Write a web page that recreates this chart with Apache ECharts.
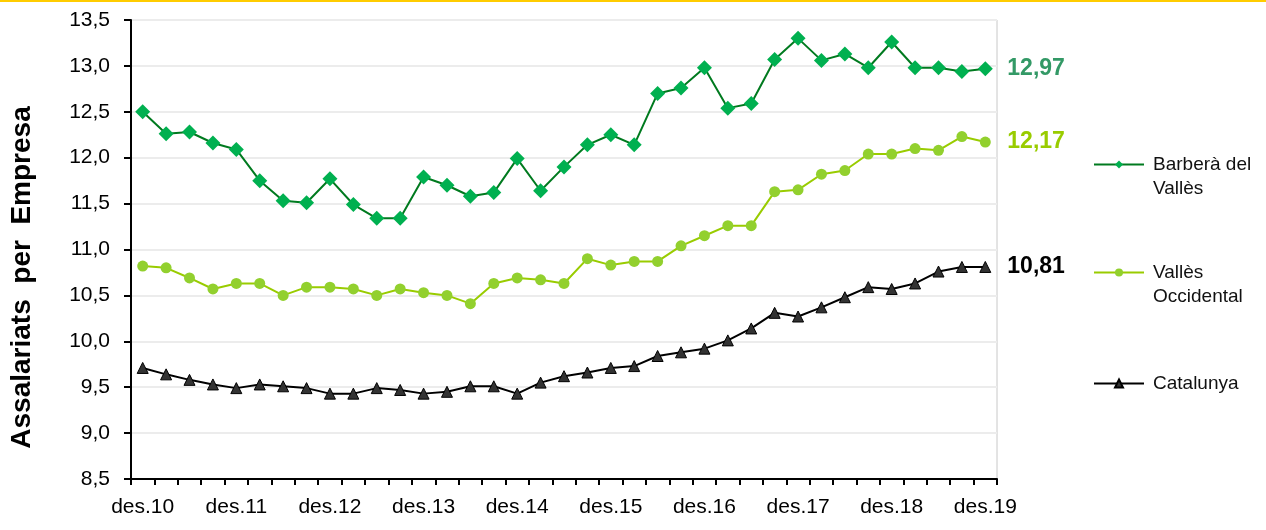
<!DOCTYPE html>
<html>
<head>
<meta charset="utf-8">
<script src="https://cdn.jsdelivr.net/npm/echarts@6/dist/echarts.min.js"></script>
<style>
  body { margin: 0; background: #fff; }
  #wrap { width: 1266px; height: 530px; border-top: 2px solid #ffcc00; box-sizing: border-box; }
  #chart { width: 1266px; height: 528px; }
</style>
</head>
<body>
<div id="wrap"><div id="chart"></div></div>
<script>
// trimestres, des.10 - des.19
const categories = [
  "des.10", "mar.11", "jun.11", "set.11", "des.11", "mar.12", "jun.12", "set.12",
  "des.12", "mar.13", "jun.13", "set.13", "des.13", "mar.14", "jun.14", "set.14",
  "des.14", "mar.15", "jun.15", "set.15", "des.15", "mar.16", "jun.16", "set.16",
  "des.16", "mar.17", "jun.17", "set.17", "des.17", "mar.18", "jun.18", "set.18",
  "des.18", "mar.19", "jun.19", "set.19", "des.19"
];
const barbera = [
  12.50, 12.26, 12.28, 12.16, 12.09, 11.75, 11.53, 11.51, 11.77, 11.49,
  11.34, 11.34, 11.79, 11.70, 11.58, 11.62, 11.99, 11.64, 11.90, 12.14,
  12.25, 12.14, 12.70, 12.76, 12.98, 12.54, 12.59, 13.07, 13.30, 13.06,
  13.13, 12.98, 13.26, 12.98, 12.98, 12.94, 12.97
];
const vallesOcc = [
  10.82, 10.80, 10.69, 10.57, 10.63, 10.63, 10.50, 10.59, 10.59, 10.57,
  10.50, 10.57, 10.53, 10.50, 10.41, 10.63, 10.69, 10.67, 10.63, 10.90,
  10.83, 10.87, 10.87, 11.04, 11.15, 11.26, 11.26, 11.63, 11.65, 11.82,
  11.86, 12.04, 12.04, 12.10, 12.08, 12.23, 12.17
];
const catalunya = [
  9.71, 9.64, 9.58, 9.53, 9.49, 9.53, 9.51, 9.49, 9.43, 9.43,
  9.49, 9.47, 9.43, 9.45, 9.51, 9.51, 9.43, 9.55, 9.62, 9.66,
  9.71, 9.73, 9.84, 9.88, 9.92, 10.01, 10.14, 10.31, 10.27, 10.37,
  10.48, 10.59, 10.57, 10.63, 10.76, 10.81, 10.81
];
const seriesNames = ["Barberà del Vallès", "Vallès Occidental", "Catalunya"];
// la primera línia va alineada amb la icona de la llegenda
const legendLabels = [
  "{s| }\n{t|Barberà del}\n{t|Vallès}",
  "{s| }\n{t|Vallès}\n{t|Occidental}",
  "{t|Catalunya}"
];

const font = "'Liberation Sans', Arial, sans-serif";
const coma = (v, d) => v.toFixed(d).replace(".", ",");

function legendAt(i, top) {
  return {
    orient: "vertical",
    left: 1093,
    top: top,
    padding: 0,
    itemWidth: 50,
    itemHeight: 10,
    data: [seriesNames[i]],
    formatter: () => legendLabels[i],
    textStyle: {
      fontFamily: font, fontSize: 19, color: "#111",
      rich: {
        s: { fontSize: 19, lineHeight: 24, padding: [0, 0, 0, 4] },
        t: { fontFamily: font, fontSize: 19, lineHeight: 24, color: "#111", padding: [0, 0, 0, 4] }
      }
    }
  };
}

const myChart = echarts.init(document.getElementById("chart"));
myChart.setOption({
  animation: false,
  grid: {
    left: 129, right: 269, top: 18, bottom: 51,
    show: true, borderColor: "#c8c8c8", borderWidth: 1
  },
  legend: [legendAt(0, 129), legendAt(1, 237), legendAt(2, 372)],
  xAxis: {
    type: "category",
    data: categories,
    boundaryGap: true,
    axisLine: { lineStyle: { color: "#000", width: 2 } },
    axisTick: { show: true, interval: 0, length: 6, lineStyle: { color: "#000", width: 2 } },
    axisLabel: { interval: 3, margin: 18, fontFamily: font, fontSize: 21, color: "#000" },
    splitLine: { show: false }
  },
  yAxis: {
    type: "value",
    min: 8.5, max: 13.5, interval: 0.5,
    name: "Assalariats  per  Empresa",
    nameLocation: "middle",
    nameGap: 95,
    nameTextStyle: {
      fontFamily: font, fontSize: 28, fontWeight: "bold", color: "#000",
      padding: [0, 56, 0, 0]
    },
    axisLine: { show: true, lineStyle: { color: "#000", width: 2 } },
    axisTick: { show: true, length: 7, lineStyle: { color: "#000", width: 2 } },
    axisLabel: {
      margin: 21, fontFamily: font, fontSize: 21, color: "#000",
      formatter: v => coma(v, 1)
    },
    splitLine: { lineStyle: { color: "#ececec", width: 2 } }
  },
  series: [
    {
      name: seriesNames[0], type: "line", data: barbera,
      symbol: "diamond", symbolSize: 15,
      lineStyle: { color: "#007a1f", width: 2 },
      itemStyle: { color: "#00b050" },
      endLabel: {
        show: true, distance: 22, formatter: p => coma(p.value, 2),
        fontFamily: font, fontSize: 23, fontWeight: "bold", color: "#339966"
      }
    },
    {
      name: seriesNames[1], type: "line", data: vallesOcc,
      symbol: "circle", symbolSize: 11,
      lineStyle: { color: "#99cc00", width: 2 },
      itemStyle: { color: "#92d02e" },
      endLabel: {
        show: true, distance: 22, formatter: p => coma(p.value, 2),
        fontFamily: font, fontSize: 23, fontWeight: "bold", color: "#99cc00"
      }
    },
    {
      name: seriesNames[2], type: "line", data: catalunya,
      symbol: "triangle", symbolSize: 11,
      lineStyle: { color: "#000", width: 2 },
      itemStyle: { color: "#333", borderColor: "#000", borderWidth: 1 },
      endLabel: {
        show: true, distance: 22, formatter: p => coma(p.value, 2),
        fontFamily: font, fontSize: 23, fontWeight: "bold", color: "#000"
      }
    }
  ]
});
window.addEventListener("resize", () => { myChart.resize(); });
</script>
</body>
</html>
